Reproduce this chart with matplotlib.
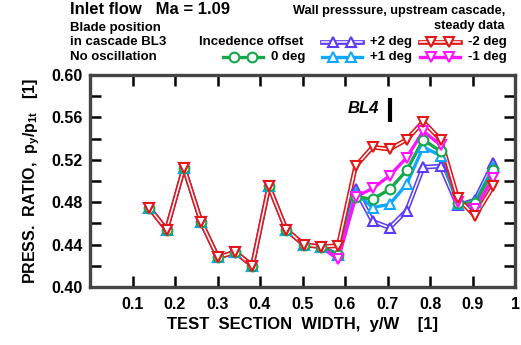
import numpy as np
import matplotlib
matplotlib.use("Agg")
import matplotlib.pyplot as plt
from matplotlib.lines import Line2D

plt.rcParams['font.family'] = ['Liberation Sans', 'DejaVu Sans']
plt.rcParams['font.weight'] = 'bold'
plt.rcParams['mathtext.fontset'] = 'custom'
plt.rcParams['mathtext.rm'] = 'Liberation Sans:bold'
plt.rcParams['mathtext.bf'] = 'Liberation Sans:bold'
plt.rcParams['mathtext.default'] = 'bf'

# measuring positions y/W
pos = [0.139, 0.180, 0.221, 0.262, 0.301, 0.342, 0.382, 0.421, 0.462, 0.503,
       0.543, 0.584, 0.625, 0.665, 0.705, 0.745, 0.784, 0.825, 0.865, 0.906, 0.949]

# first part is the same for all incidence offsets
common = [0.475, 0.454, 0.5125, 0.461, 0.428, 0.433, 0.420, 0.495, 0.454, 0.440, 0.438]

p_plus2 = common + [0.430, 0.492, 0.462, 0.456, 0.472, 0.513, 0.514, 0.477, 0.482, 0.517]
p_plus1 = common + [0.430, 0.489, 0.475, 0.478, 0.497, 0.532, 0.524, 0.478, 0.480, 0.513]
p_zero = common + [0.430, 0.485, 0.483, 0.492, 0.510, 0.539, 0.528, 0.479, 0.479, 0.510]
p_minus1 = common + [0.426, 0.485, 0.493, 0.505, 0.522, 0.547, 0.534, 0.480, 0.474, 0.503]
p_minus2 = common + [0.439, 0.514, 0.532, 0.530, 0.539, 0.556, 0.539, 0.484, 0.467, 0.495]

bl4_pos = 0.705

c_p2 = '#5a3cf5'
c_p1 = '#12a6ff'
c_0 = '#14a84a'
c_m1 = '#ff14ff'
c_m2 = '#e01818'

fig = plt.figure(figsize=(5.21, 3.45), dpi=100)
ax = fig.add_axes([90/521, 58/345, 425/521, 212/345])

def draw(x, y, color, marker, double):
    if double:
        ax.plot(x, y, color=color, lw=3.4, zorder=3)
        ax.plot(x, y, color='white', lw=1.1, zorder=3)
    else:
        ax.plot(x, y, color=color, lw=2.4, zorder=3)
    ax.plot(x, y, ls='none', marker=marker, ms=7, mfc='white', mec=color,
            mew=1.5, zorder=4)

draw(pos, p_plus2, c_p2, '^', True)
draw(pos, p_plus1, c_p1, '^', False)
draw(pos, p_zero, c_0, 'o', False)
draw(pos, p_minus1, c_m1, 'v', False)
draw(pos, p_minus2, c_m2, 'v', True)

ax.set_xlim(0, 1)
ax.set_ylim(0.40, 0.60)
ax.set_xticks(np.arange(0.1, 1.01, 0.1))
ax.set_xticklabels(['0.1', '0.2', '0.3', '0.4', '0.5', '0.6', '0.7', '0.8', '0.9', '1'])
ax.set_yticks(np.arange(0.40, 0.601, 0.04))
ax.set_yticks(np.arange(0.42, 0.60, 0.04), minor=True)
ax.set_yticklabels(['%.2f' % v for v in np.arange(0.40, 0.601, 0.04)])
ax.tick_params(which='both', direction='in', length=8, width=1.8, top=True, right=True,
               labelsize=11.5, color='black')
ax.tick_params(axis='x', pad=7)
ax.tick_params(axis='y', pad=5)
for s in ax.spines.values():
    s.set_linewidth(2.4)
    s.set_color('#444444')

ax.set_xlabel('TEST  SECTION  WIDTH,  y/W    [1]', fontsize=12, fontweight='bold', labelpad=4)
ax.set_ylabel(r'PRESS.  RATIO,  p$_{y}$/p$_{1t}$   [1]', fontsize=11.5, fontweight='bold', labelpad=7)

# BL4 marker
ax.text(0.643, 0.568, 'BL4', fontsize=12, fontweight='bold', style='italic',
        ha='center', va='center')
ax.vlines(bl4_pos, 0.5555, 0.578, color='black', lw=3)

# header texts
fig.text(70/521, 1 - 10/345, 'Inlet flow   Ma = 1.09', fontsize=12, fontweight='bold',
         ha='left', va='center')
fig.text(70/521, 1 - 28/345, 'Blade position', fontsize=9.5, fontweight='bold', ha='left', va='center')
fig.text(70/521, 1 - 42/345, 'in cascade BL3', fontsize=9.5, fontweight='bold', ha='left', va='center')
fig.text(70/521, 1 - 57/345, 'No oscillation', fontsize=9.5, fontweight='bold', ha='left', va='center')
fig.text(505/521, 1 - 11/345, 'Wall presssure, upstream cascade,', fontsize=9.2, fontweight='bold',
         ha='right', va='center')
fig.text(505/521, 1 - 26/345, 'steady data', fontsize=9.2, fontweight='bold', ha='right', va='center')
fig.text(303/521, 1 - 42/345, 'Incedence offset', fontsize=9.5, fontweight='bold', ha='right', va='center')

def legend_entry(x0, y, color, marker, double, label):
    xs = [x0/521, (x0 + 11)/521, (x0 + 29)/521, (x0 + 40)/521]
    ys = [1 - y/345] * 4
    if double:
        fig.add_artist(Line2D(xs, ys, color=color, lw=3.4, transform=fig.transFigure))
        fig.add_artist(Line2D(xs, ys, color='white', lw=1.1, transform=fig.transFigure))
    else:
        fig.add_artist(Line2D(xs, ys, color=color, lw=2.4, transform=fig.transFigure))
    fig.add_artist(Line2D(xs, ys, ls='none', marker=marker, markevery=[1, 2], ms=7,
                          mfc='white', mec=color, mew=1.5, transform=fig.transFigure))
    fig.text((x0 + 48)/521, 1 - y/345, label, fontsize=9.5, fontweight='bold',
             ha='left', va='center')

legend_entry(322, 42, c_p2, '^', True, '+2 deg')
legend_entry(420, 42, c_m2, 'v', True, '-2 deg')
legend_entry(223, 57, c_0, 'o', False, '0 deg')
legend_entry(322, 57, c_p1, '^', False, '+1 deg')
legend_entry(420, 57, c_m1, 'v', False, '-1 deg')

fig.savefig('out.png', dpi=100)
